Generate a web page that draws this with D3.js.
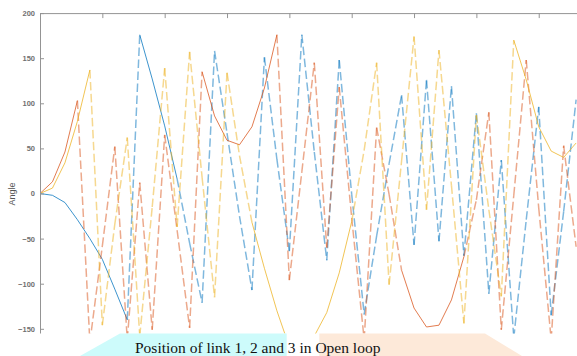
<!DOCTYPE html>
<html>
<head>
<meta charset="utf-8">
<script src="https://cdn.jsdelivr.net/npm/d3@7"></script>
<style>
  body { margin: 0; background: #fff; }
  svg { display: block; }
</style>
</head>
<body>
<div class="graph"></div>
<script>
// samples every 0.2 s
var time = [0, 0.2, 0.4, 0.6, 0.8, 1.0, 1.2, 1.4, 1.6, 1.8, 2.0, 2.2, 2.4, 2.6, 2.8, 3.0,
  3.2, 3.4, 3.6, 3.8, 4.0, 4.2, 4.4, 4.6, 4.8, 5.0, 5.2, 5.4, 5.6, 5.8, 6.0, 6.2,
  6.4, 6.6, 6.8, 7.0, 7.2, 7.4, 7.6, 7.8, 8.0, 8.2, 8.4, 8.6];

var link1 = [0, -2, -10, -29, -50, -73, -106, -140, 176, 127, 75, 16, -55, -121, 158, 67,
  -25, -107, 151, 38, -64, 176, 46, -74, 148, -1, -134, -47, 33, 109, -57, 126,
  -53, 119, -69, 89, -111, 37, -160, -29, 96, -135, -20, 104];

var link2 = [0, 13, 46, 103, -165, -58, 52, -162, 12, -151, 65, -41, -149, 135, 86, 59,
  54, 74, 117, 176, -96, 24, 145, -60, 118, -27, -162, 73, -1, -85, -127, -148,
  -146, -118, -70, -7, 90, -151, -2, 148, -16, -162, 53, -59];

var link3 = [0, 6, 34, 80, 137, -146, -34, 62, -158, -15, 139, -37, 157, 18, -115, 134,
  42, -32, -83, -130, -170, -177, -158, -132, -88, -31, 48, 145, -101, 36, 174, -18,
  159, 9, -144, 87, -18, -114, 170, 126, 74, 47, 40, 56];

var yTicks = [-150, -100, -50, 0, 50, 100, 150, 200];
var xTicks = [0, 1, 2, 3, 4, 5, 6, 7, 8, 9, 10];
var colors = ["#0072BD", "#D95319", "#EDB120"];
var yLabel = "Angle";
var caption = "Position of link 1, 2 and 3 in Open loop";

var drawChart = function() {
  var width = 577, height = 356;
  var margin = {left: 40, top: 13.1, bottom: 333.5};

  var svg = d3.select("div.graph").append("svg")
      .attr("width", width)
      .attr("height", height);

  var x = d3.scaleLinear().domain([0, 10]).range([margin.left, margin.left + 623.4]);
  var y = d3.scaleLinear().domain([-200, 200]).range([373.9, margin.top]);

  svg.append("clipPath").attr("id", "plot-clip")
    .append("rect")
      .attr("x", margin.left).attr("y", margin.top)
      .attr("width", width - margin.left).attr("height", margin.bottom - margin.top);

  var plot = svg.append("g").attr("clip-path", "url(#plot-clip)");

  // each segment drawn on its own so the dash restarts at every sample,
  // steep segments come out dashed, flat ones look solid
  [link1, link2, link3].forEach(function(series, s) {
    var pts = series.map(function(v, i) { return [x(time[i]), y(v)]; });
    var segs = d3.pairs(pts);

    plot.selectAll("line.s" + s)
      .data(segs)
      .enter().append("line")
        .attr("class", "s" + s)
        .attr("x1", function(d) { return d[0][0]; })
        .attr("y1", function(d) { return d[0][1]; })
        .attr("x2", function(d) { return d[1][0]; })
        .attr("y2", function(d) { return d[1][1]; })
        .attr("stroke", colors[s])
        .attr("fill", "none")
        .each(function(d) {
          var steep = Math.abs((d[1][1] - d[0][1]) / (d[1][0] - d[0][0])) > 4.5;
          d3.select(this)
            .attr("stroke-width", steep ? 1.5 : 0.9)
            .attr("stroke-opacity", steep ? 0.5 : 0.85)
            .attr("stroke-dasharray", steep ? "8.5,3.5" : null);
        });
  });

  // axes
  var yAxis = svg.append("g")
      .attr("transform", "translate(" + margin.left + ",0)")
      .call(d3.axisLeft(y).tickValues(yTicks).tickSize(-4).tickPadding(5));

  var xAxis = svg.append("g")
      .attr("transform", "translate(0," + margin.top + ")")
      .call(d3.axisTop(x).tickValues(xTicks).tickSize(-5).tickFormat(""));

  yAxis.select(".domain").attr("d", "M0.5," + margin.top + "V" + margin.bottom);
  xAxis.select(".domain").attr("d", "M" + margin.left + ",0.5H" + width);

  svg.selectAll(".domain, .tick line").attr("stroke", "#949494");
  yAxis.selectAll(".tick text")
      .attr("fill", "#707070")
      .style("font-family", "Liberation Sans, Arial, sans-serif")
      .style("font-size", "7.5px")
      .style("font-weight", "bold");

  svg.append("text")
      .attr("transform", "translate(15,194) rotate(-90)")
      .style("text-anchor", "middle")
      .style("font-family", "Liberation Sans, Arial, sans-serif")
      .style("font-size", "9px")
      .attr("fill", "#555")
      .text(yLabel);

  // caption banner under the cropped plot
  svg.append("polygon")
      .attr("points", "120,333.5 286.7,333.5 286.7,356 80,356")
      .attr("fill", "#cdfbfb");
  svg.append("polygon")
      .attr("points", "319.3,333.5 485,333.5 522,356 319.3,356")
      .attr("fill", "#fde9d9");

  svg.append("text")
      .attr("x", 135)
      .attr("y", 353)
      .style("font-family", "Liberation Serif, Times New Roman, serif")
      .style("font-size", "15.5px")
      .attr("fill", "#111")
      .text(caption);
};

drawChart();
</script>
</body>
</html>
